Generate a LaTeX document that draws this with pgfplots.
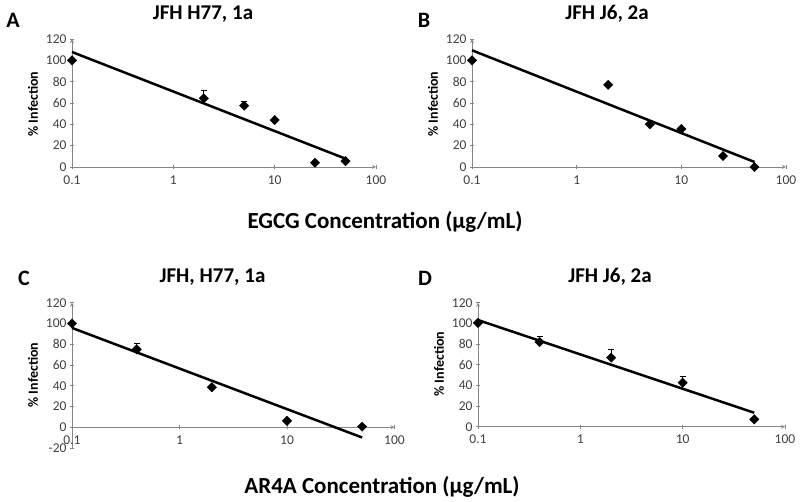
\documentclass[border=0pt]{standalone}
\usepackage{pgfplots}
\pgfplotsset{compat=1.18}
\usepackage{fontspec}
\setmainfont{Carlito}
\definecolor{axgray}{HTML}{868686}
\definecolor{tickgray}{HTML}{404040}
\pgfkeys{/pgf/number format/assume math mode=true}
\pgfplotsset{
  every axis/.append style={
    scale only axis,
    xmin=0.1, xmax=100, ymin=0, ymax=120,
    ytick={-20,0,20,40,60,80,100,120},
    xtick={0.1,1,10,100}, xticklabels={0.1,1,10,100}, xminorticks=false,
    hide obscured x ticks=false, hide obscured y ticks=false,
    axis line style={draw=axgray, line width=0.8pt, -},
    tick style={draw=axgray, line width=0.8pt},
    major tick length=4pt, tick align=outside,
    ticklabel style={font=\fontsize{13.5}{13.5}\selectfont, text=tickgray},
    xticklabel style={yshift=-3pt},
    clip=false,
  },
}
\begin{document}
\begin{tikzpicture}[x=1pt,y=1pt]
\path[use as bounding box] (0,0) rectangle (800,502);
% A
\begin{semilogxaxis}[axis x line=bottom, axis y line=left, at={(72pt,335pt)}, anchor=south west, width=304pt, height=128pt]
\addplot[only marks, mark=square*, mark size=3.3pt, mark options={rotate=45, fill=black, draw=black},
  error bars/.cd, y dir=plus, y explicit, error bar style={line width=0.8pt, black},
  error mark options={rotate=90, mark size=3pt, line width=0.8pt, black}]
  table[x=x,y=y,y error=e] {
x y e
0.1 100 0
2 64.4 7.5
5 57.5 3.7
10 44 1.5
25 4 0
50 5.5 0.5
};
\addplot[no marks, black, line width=2.5pt] coordinates {(0.1,107.8) (50,7.8)};
\end{semilogxaxis}
% B
\begin{semilogxaxis}[axis x line=bottom, axis y line=left, at={(472pt,335pt)}, anchor=south west, width=314pt, height=128pt]
\addplot[only marks, mark=square*, mark size=3.3pt, mark options={rotate=45, fill=black, draw=black}]
  table[x=x,y=y] {
x y
0.1 100
2 77
5 40
10 35.6
25 10.3
50 0
};
\addplot[no marks, black, line width=2.5pt] coordinates {(0.1,109.4) (50,4.7)};
\end{semilogxaxis}
% C
\begin{semilogxaxis}[axis x line=middle, axis y line=left, ymin=-20, at={(72pt,54pt)}, anchor=south west, width=322.5pt, height=145.3pt]
\addplot[only marks, mark=square*, mark size=3.3pt, mark options={rotate=45, fill=black, draw=black},
  error bars/.cd, y dir=plus, y explicit, error bar style={line width=0.8pt, black},
  error mark options={rotate=90, mark size=3pt, line width=0.8pt, black}]
  table[x=x,y=y,y error=e] {
x y e
0.1 100 0
0.4 75 5.8
2 38.5 0
10 6.1 0
50 0.6 0
};
\addplot[no marks, black, line width=2.5pt] coordinates {(0.1,95.7) (50,-9.9)};
\end{semilogxaxis}
% D
\begin{semilogxaxis}[axis x line=bottom, axis y line=left, at={(478pt,75.3pt)}, anchor=south west, width=307pt, height=124pt]
\addplot[only marks, mark=square*, mark size=3.3pt, mark options={rotate=45, fill=black, draw=black},
  error bars/.cd, y dir=plus, y explicit, error bar style={line width=0.8pt, black},
  error mark options={rotate=90, mark size=3pt, line width=0.8pt, black}]
  table[x=x,y=y,y error=e] {
x y e
0.1 100.5 0
0.4 82 5.8
2 66.8 8
10 42.6 5.8
50 7.1 0
};
\addplot[no marks, black, line width=2.5pt] coordinates {(0.1,103.2) (50,13.5)};
\end{semilogxaxis}
% titles and letters
\begin{scope}[every node/.style={font=\bfseries\fontsize{22}{22}\selectfont, inner sep=0pt}]
\node at (13,482) {A};
\node at (424,482) {B};
\node at (24,224) {C};
\node at (425,224) {D};
\end{scope}
\begin{scope}[every node/.style={font=\bfseries\fontsize{21}{21}\selectfont, inner sep=0pt}]
\node at (203,488) {JFH H77, 1a};
\node at (607,488) {JFH J6, 2a};
\node at (212.5,225) {JFH, H77, 1a};
\node at (610,225) {JFH J6, 2a};
\end{scope}
\begin{scope}[every node/.style={font=\bfseries\fontsize{14}{14}\selectfont, inner sep=0pt, rotate=90}]
\node at (33,398) {\% Infection};
\node at (433,398) {\% Infection};
\node at (33,127) {\% Infection};
\node at (439,138) {\% Infection};
\end{scope}
\begin{scope}[every node/.style={font=\bfseries\fontsize{23}{24}\selectfont, inner sep=0pt}]
\node at (385,280) {EGCG Concentration (µg/mL)};
\node at (382,15) {AR4A Concentration (µg/mL)};
\end{scope}
\end{tikzpicture}
\end{document}
